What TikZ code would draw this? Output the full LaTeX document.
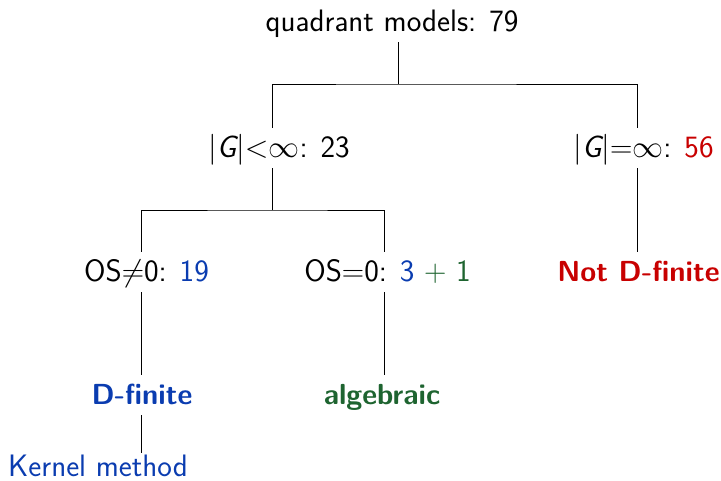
\RequirePackage{fix-cm}
\documentclass[tikz,border=0pt]{standalone}
\usepackage{fontspec}
\renewcommand{\familydefault}{\sfdefault}
\definecolor{dblue}{RGB}{10,60,176}
\definecolor{dgreen}{RGB}{30,100,48}
\definecolor{dred}{RGB}{200,0,0}
\begin{document}
\begin{tikzpicture}[x=1pt,y=-1pt,
  lbl/.style={anchor=base, inner xsep=0pt, inner ysep=8pt, text height=21pt, text depth=3pt,
    font=\fontsize{31}{36}\selectfont},
  bold/.style={lbl, font=\fontsize{29}{34}\selectfont\bfseries},
  edge/.style={line width=0.8pt, draw=black}]
\useasboundingbox (0,0) rectangle (721,480);
% nodes
\node[lbl] (root) at (392,31) {quadrant models: 79};
\node[lbl] (g1) at (279,157) {$|\textsl{G}|{<}\infty$: 23};
\node[lbl] (g2) at (643.5,157) {$|\textsl{G}|{=}\infty$: \textcolor{dred}{56}};
\node[lbl] (os1) at (146.5,281) {OS${\neq}$0: \textcolor{dblue}{19}};
\node[lbl] (os2) at (387.5,281) {OS${=}$0: \textcolor{dblue}{3} \textcolor{dgreen}{$+$ 1}};
\node[bold, text=dred] (nd) at (638.5,281) {Not D-finite};
\node[bold, text=dblue] (df) at (142,404) {D-finite};
\node[bold, text=dgreen] (alg) at (382,404) {algebraic};
\node[lbl, text=dblue, inner ysep=2pt] (km) at (98,476) {Kernel method};
% column coordinates
\coordinate (j0) at (398,84);
\coordinate (j1) at (272,210);
\coordinate (cA) at (272,0);
\coordinate (cB) at (637,0);
\coordinate (cC) at (141,0);
\coordinate (cD) at (384,0);
% edges
\draw[edge] (root.south -| j0) -- (j0);
\draw[edge] (g1.north -| cA) |- (j0) -| (g2.north -| cB);
\draw[edge] (g1.south -| j1) -- (j1);
\draw[edge] (os1.north -| cC) |- (j1) -| (os2.north -| cD);
\draw[edge] (g2.south -| cB) -- (nd.north -| cB);
\draw[edge] (os1.south -| cC) -- (df.north -| cC);
\draw[edge] (os2.south -| cD) -- (alg.north -| cD);
\draw[edge] (df.south -| cC) -- (km.north -| cC);
\end{tikzpicture}
\end{document}
